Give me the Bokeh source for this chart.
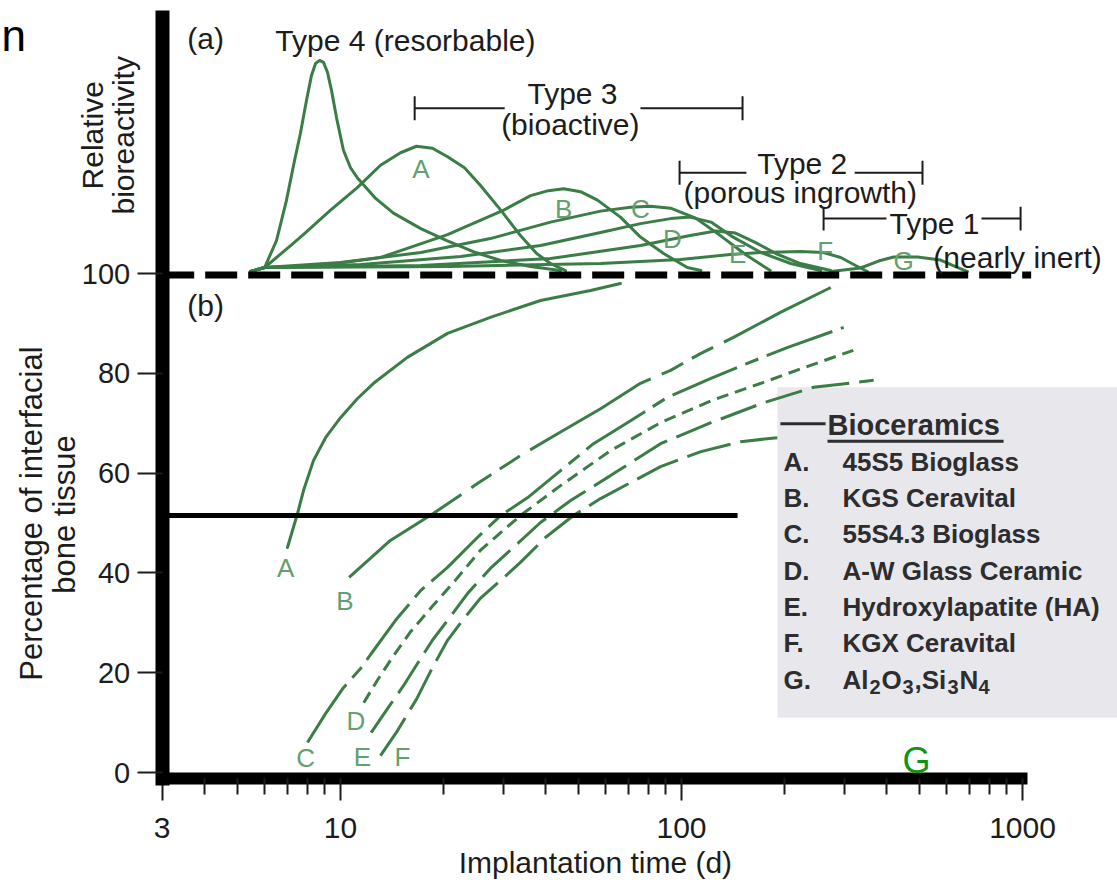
import math
from bokeh.plotting import figure
from bokeh.models import Range1d, FixedTicker, BasicTickFormatter, Label, BoxAnnotation
from bokeh.embed import file_html
from bokeh.resources import INLINE

# ---------------- data ----------------
# (a) Relative bioreactivity curves: implantation time (d) vs relative value (baseline ~100)
t4_x = [5.45, 5.99, 6.49, 6.94, 7.33, 7.63, 7.95, 8.22, 8.45, 8.68, 8.92, 9.16, 9.41, 9.73,
        10.2, 10.7, 11.2, 12.7, 14.3, 17.2, 20.5, 24.9, 29.5, 36.1, 44.2]
t4_y = [100.4, 101.2, 106.6, 114.6, 122.6, 128.1, 134.7, 139.7, 142.1, 142.7, 142.3, 140.3, 136.7,
        131.3, 124.7, 121.2, 119.2, 115.0, 112.1, 109.0, 106.6, 104.2, 102.6, 101.4, 100.6]
a_top_x = [5.45, 5.99, 7.14, 7.84, 9.35, 11.2, 13.1, 15.0, 16.7, 18.6, 20.6, 23.1, 25.7, 29.5,
           33.7, 37.6, 41.3, 45.7]
a_top_y = [100.4, 101.2, 105.6, 108.0, 112.7, 117.2, 121.7, 124.2, 125.5, 125.1, 123.4, 121.2,
           117.7, 112.7, 107.6, 104.0, 102.0, 100.6]
b_top_x = [5.45, 5.99, 8.74, 13.1, 20.6, 30.1, 36.1, 40.7, 45.1, 50.6, 56.7, 66.2, 75.8, 88.6, 104, 114]
b_top_y = [100.4, 101.2, 101.6, 103.2, 107.8, 112.7, 115.6, 116.6, 117.0, 116.4, 114.7, 111.3,
           107.3, 104.0, 101.2, 100.6]
c_top_x = [5.45, 5.99, 10.0, 17.2, 27.5, 41.3, 57.9, 70.9, 81.1, 92.9, 110, 130, 154, 182]
c_top_y = [100.4, 101.2, 102.2, 104.2, 107.0, 110.3, 112.5, 113.3, 113.5, 113.1, 111.1, 107.6, 103.8, 100.6]
d_top_x = [5.45, 5.99, 11.5, 22.5, 38.6, 57.9, 75.8, 92.9, 106, 122, 140, 171, 209, 256]
d_top_y = [100.4, 101.2, 101.8, 103.4, 105.6, 108.2, 110.0, 111.0, 111.3, 110.3, 107.5, 104.2, 102.0, 100.6]
e_top_x = [5.45, 5.99, 17.2, 41.3, 75.8, 106, 126, 144, 165, 189, 223, 274]
e_top_y = [100.4, 101.2, 101.6, 103.0, 105.6, 107.6, 108.5, 108.1, 106.2, 104.0, 102.0, 100.6]
f_top_x = [5.45, 5.99, 21.0, 57.9, 99.3, 139, 171, 223, 261, 293, 324, 351]
f_top_y = [100.4, 101.2, 101.4, 102.0, 102.8, 103.8, 104.2, 104.4, 104.2, 103.2, 101.6, 100.4]
g_top_x = [274, 335, 378, 419, 492, 575, 636, 690]
g_top_y = [100.4, 101.1, 102.5, 103.3, 103.3, 102.7, 101.4, 100.4]

# (b) Percentage of interfacial bone tissue
a_bot_x = [6.99, 7.48, 7.79, 8.33, 9.04, 10.0, 11.2, 12.5, 15.7, 20.6, 27.5, 38.6, 54.1, 66.2]
a_bot_y = [45.1, 51.9, 56.5, 62.5, 67.1, 71.1, 74.9, 78.0, 83.2, 88.0, 91.2, 94.6, 96.6, 98.0]
b_bot_x = [10.6, 14.0, 18.7, 25.2, 33.7, 43.3, 57.9, 75.8, 92.9, 114, 142, 195, 274]
b_bot_y = [39.1, 46.5, 51.9, 57.9, 63.5, 67.9, 72.9, 78.0, 80.6, 84.0, 87.2, 92.2, 97.2]
c_bot_x = [8.00, 9.04, 10.2, 11.5, 12.3, 14.5, 17.2, 20.6, 25.2, 29.5, 35.4, 44.2, 55.2, 70.9,
           91.0, 122, 156, 205, 299]
c_bot_y = [6.0, 11.8, 17.0, 21.0, 23.8, 30.5, 36.5, 41.1, 47.1, 51.5, 55.1, 60.5, 65.9, 70.5,
           75.2, 79.0, 82.0, 85.2, 89.2]
d_bot_x = [11.7, 12.8, 14.3, 16.0, 18.7, 21.7, 25.7, 33.7, 44.2, 61.9, 86.8, 122, 171, 239, 319]
d_bot_y = [14.0, 18.4, 23.4, 28.1, 33.5, 38.5, 44.5, 51.5, 57.5, 64.5, 70.1, 74.5, 78.0, 81.6, 84.6]
e_bot_x = [12.3, 13.8, 15.3, 16.8, 18.6, 20.6, 23.6, 27.5, 32.6, 38.6, 47.3, 61.9, 86.8, 122,
           174, 244, 366]
e_bot_y = [8.0, 13.0, 17.4, 21.8, 26.5, 30.5, 35.9, 40.9, 45.5, 50.1, 54.5, 59.5, 65.9, 70.1,
           74.1, 77.2, 78.6]
f_bot_x = [13.1, 14.7, 16.8, 18.6, 20.6, 22.8, 25.7, 29.5, 33.7, 39.9, 48.2, 57.9, 70.9, 86.8,
           114, 149, 191]
f_bot_y = [3.4, 8.4, 15.0, 21.0, 26.5, 30.5, 34.9, 38.5, 42.1, 47.1, 51.5, 54.9, 58.1, 61.3,
           64.3, 66.3, 67.1]

baseline_level = 99.7          # dashed line between panels (a) and (b)
half_level = 51.5              # solid horizontal reference line in (b)
half_line_end = 146

# axis ticks / extent of the drawn axes
x_ticks = [3, 10, 100, 1000]
x_minor = [4, 5, 6, 7, 8, 9, 20, 30, 40, 50, 60, 70, 80, 90,
           200, 300, 400, 500, 600, 700, 800, 900]
y_ticks = [0, 20, 40, 60, 80, 100]
x_axis_span = (3, 1034)
y_axis_span = (-1.2, 151.3)

# bracket annotations for types (left end, text gap, right end, level)
type_names = ["Type 3", "Type 2", "Type 1"]
type_sub = ["(bioactive)", "(porous ingrowth)", "(nearly inert)"]
type_left = [16.5, 98.7, 261]
type_gap_l = [30.3, 155, 399]
type_gap_r = [75.8, 322, 758]
type_right = [151, 509, 987]
type_level = [133.1, 120.2, 111.0]
type_text_x = [47.9, 226, 552]
type_text_y = [136.1, 122.0, 110.0]
type_sub_x = [47.2, 223, 967]
type_sub_y = [129.9, 116.2, 103.2]

# curve letters
top_letters = ["A", "B", "C", "D", "E", "F", "G"]
top_letter_x = [17.2, 45.1, 75.8, 94.1, 146, 264, 448]
top_letter_y = [121.0, 113.0, 113.0, 107.0, 104.0, 104.6, 102.6]
bot_letters = ["A", "B", "C", "D", "E", "F"]
bot_letter_x = [6.90, 10.3, 7.90, 11.1, 11.6, 15.2]
bot_letter_y = [40.9, 34.3, 3.0, 10.4, 3.2, 3.2]

# legend
legend_letters = ["A.", "B.", "C.", "D.", "E.", "F.", "G."]
legend_names = ["45S5 Bioglass", "KGS Ceravital", "55S4.3 Bioglass", "A-W Glass Ceramic",
                "Hydroxylapatite (HA)", "KGX Ceravital"]
legend_formula = [("Al", False), ("2", True), ("O", False), ("3", True),
                  (",Si", False), ("3", True), ("N", False), ("4", True)]

# ---------------- styling ----------------
FONT = "Liberation Sans"
GREEN = "#3b7d46"
LGREEN = "#62a070"
INK = "#1c1c1c"
LEG_INK = "#2d2d30"

# the plotting frame covers the whole canvas; the axes are drawn at fixed places inside it
p = figure(width=1117, height=882, x_axis_type="log",
           x_range=Range1d(1.0068, 1899.0), y_range=Range1d(-22.04, 154.71),
           output_backend="svg", toolbar_location=None,
           min_border_left=0, min_border_right=0, min_border_top=0, min_border_bottom=0)
p.outline_line_color = None
p.xgrid.visible = False
p.ygrid.visible = False
p.background_fill_color = "white"
p.border_fill_color = "white"

xa = p.xaxis[0]
xa.fixed_location = y_axis_span[0]
xa.bounds = x_axis_span
xa.ticker = FixedTicker(ticks=x_ticks, minor_ticks=x_minor)
xa.formatter = BasicTickFormatter()
xa.axis_line_width = 12
xa.axis_line_color = "black"
xa.major_tick_out = 22
xa.major_tick_in = 0
xa.minor_tick_out = 16
xa.minor_tick_in = 0
xa.major_tick_line_width = 2
xa.minor_tick_line_width = 2
xa.major_tick_line_color = INK
xa.minor_tick_line_color = INK
xa.major_label_text_font = FONT
xa.major_label_text_font_size = "30px"
xa.major_label_text_color = INK
xa.major_label_standoff = 17

ya = p.yaxis[0]
ya.fixed_location = x_axis_span[0]
ya.bounds = y_axis_span
ya.ticker = FixedTicker(ticks=y_ticks)
ya.axis_line_width = 14
ya.axis_line_color = "black"
ya.axis_line_cap = "square"
ya.major_tick_out = 25
ya.major_tick_in = 0
ya.major_tick_line_width = 2
ya.major_tick_line_color = INK
ya.minor_tick_line_color = None
ya.major_label_text_font = FONT
ya.major_label_text_font_size = "29px"
ya.major_label_text_color = INK
ya.major_label_standoff = 7

# legend box behind everything
p.add_layout(BoxAnnotation(left=191.2, right=1899.0, bottom=11.0, top=77.2,
                           fill_color="#e8e8ec", fill_alpha=1.0, line_color=None,
                           level="underlay"))

# ---------------- (a) curves ----------------
for xs, ys in [(t4_x, t4_y), (a_top_x, a_top_y), (b_top_x, b_top_y), (c_top_x, c_top_y),
               (d_top_x, d_top_y), (e_top_x, e_top_y), (f_top_x, f_top_y), (g_top_x, g_top_y)]:
    p.line(xs, ys, line_color=GREEN, line_width=3, line_join="round", line_cap="round")

# ---------------- (b) curves ----------------
p.line(a_bot_x, a_bot_y, line_color=GREEN, line_width=3, line_join="round", line_cap="round")
p.line(b_bot_x, b_bot_y, line_color=GREEN, line_width=3, line_dash="140 12 24 10 24 12")
p.line(c_bot_x, c_bot_y, line_color=GREEN, line_width=3, line_dash="70 9 14 9")
p.line(d_bot_x, d_bot_y, line_color=GREEN, line_width=3, line_dash="12 7")
p.line(e_bot_x, e_bot_y, line_color=GREEN, line_width=3, line_dash="38 10")
p.line(f_bot_x, f_bot_y, line_color=GREEN, line_width=3, line_dash="45 10")

# reference lines
p.line([x_axis_span[0], x_ticks[-1] * 1.06], [baseline_level, baseline_level], line_color="black",
       line_width=7, line_dash="32 11")
p.line([x_axis_span[0], half_line_end], [half_level, half_level], line_color="black", line_width=5)

# type brackets
tick_h = 2.4
p.segment(x0=type_left, y0=type_level, x1=type_gap_l, y1=type_level, line_color=INK, line_width=2)
p.segment(x0=type_gap_r, y0=type_level, x1=type_right, y1=type_level, line_color=INK, line_width=2)
p.segment(x0=type_left, y0=[v - tick_h for v in type_level], x1=type_left,
          y1=[v + tick_h for v in type_level], line_color=INK, line_width=2)
p.segment(x0=type_right, y0=[v - tick_h for v in type_level], x1=type_right,
          y1=[v + tick_h for v in type_level], line_color=INK, line_width=2)


def lab(x, y, text, size="30px", color=INK, align="center", baseline="middle",
        angle=0.0, style="normal", xo=0, yo=0):
    p.add_layout(Label(x=x, y=y, text=text, text_font=FONT, text_font_size=size,
                       text_color=color, text_align=align, text_baseline=baseline,
                       angle=angle, text_font_style=style, x_offset=xo, y_offset=yo))


for i in range(3):
    lab(type_text_x[i], type_text_y[i], type_names[i])
    lab(type_sub_x[i], type_sub_y[i], type_sub[i])

lab(15.5, 146.7, "Type 4 (resorbable)")
lab(4.02, 147.1, "(a)")
lab(4.02, 93.6, "(b)")

for t, x, y in zip(top_letters, top_letter_x, top_letter_y):
    lab(x, y, t, size="26px", color=LGREEN)
for t, x, y in zip(bot_letters, bot_letter_x, bot_letter_y):
    lab(x, y, t, size="26px", color=LGREEN)
lab(489, 2.4, "G", size="36px", color="#139313")

# cropped letter visible in the corner of the source image
lab(1.0068, 147.7, "n", size="44px", color="black", align="left", baseline="alphabetic", xo=1)

# axis titles
lab(1.874, 127.7, "Relative", size="30px", angle=math.pi / 2)
lab(2.310, 127.7, "bioreactivity", size="30px", angle=math.pi / 2)
lab(1.241, 51.9, "Percentage of interfacial", size="31px", angle=math.pi / 2)
lab(1.551, 51.7, "bone tissue", size="31px", angle=math.pi / 2)
lab(55.9, -18.0, "Implantation time (d)", size="30px")

# ---------------- legend ----------------
p.segment(x0=[195], y0=[69.9], x1=[264.5], y1=[69.9], line_color=LEG_INK, line_width=3)
p.segment(x0=[268], y0=[66.4], x1=[880], y1=[66.4], line_color=LEG_INK, line_width=3)
lab(268, 69.6, "Bioceramics", size="29px", color=LEG_INK, align="left", style="bold")
row_top, row_step = 62.3, 7.28
for i, letter in enumerate(legend_letters):
    yv = row_top - i * row_step
    lab(199, yv, letter, size="26px", color=LEG_INK, align="left", style="bold")
    if i < len(legend_names):
        lab(296.6, yv, legend_names[i], size="26px", color=LEG_INK, align="left", style="bold")
    else:
        xo = 0
        for piece, sub in legend_formula:
            if sub:
                lab(296.6, yv, piece, size="20px", color=LEG_INK, align="left", style="bold",
                    xo=xo, yo=-7)
                xo += 12
            else:
                lab(296.6, yv, piece, size="26px", color=LEG_INK, align="left", style="bold", xo=xo)
                xo += {"Al": 27, "O": 21, ",Si": 33, "N": 19}[piece]

open("out.html", "w").write(file_html(p, INLINE))
